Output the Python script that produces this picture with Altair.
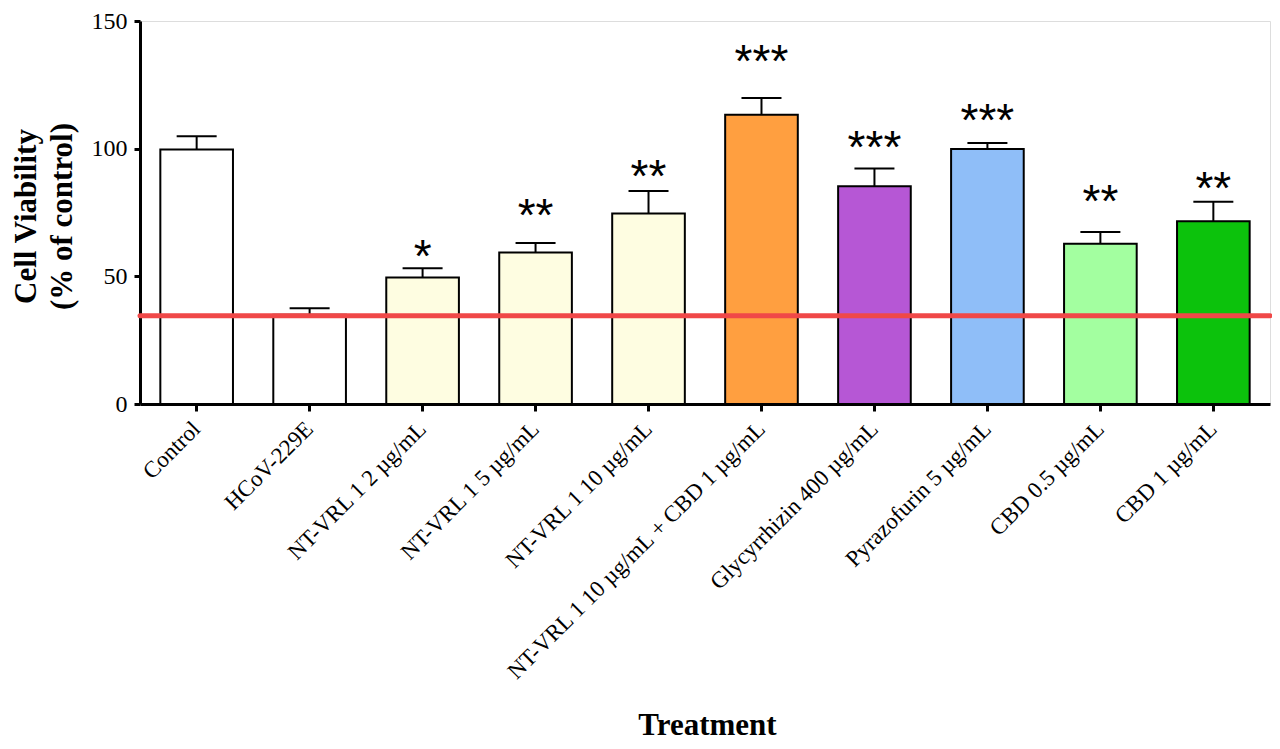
import altair as alt
import pandas as pd

treatments = [
    "Control",
    "HCoV-229E",
    "NT-VRL 1 2 µg/mL",
    "NT-VRL 1 5 µg/mL",
    "NT-VRL 1 10 µg/mL",
    "NT-VRL 1 10 µg/mL + CBD 1 µg/mL",
    "Glycyrrhizin 400 µg/mL",
    "Pyrazofurin 5 µg/mL",
    "CBD 0.5 µg/mL",
    "CBD 1 µg/mL",
]
viability = [99.7, 35.0, 49.5, 59.3, 74.6, 113.3, 85.3, 99.9, 62.8, 71.6]
err_top = [104.9, 37.5, 53.2, 63.1, 83.4, 119.8, 92.2, 102.2, 67.4, 79.2]
stars = ["", "", "*", "**", "**", "***", "***", "***", "**", "**"]
star_y = [None, None, 60.1, 75.8, 91.1, 136.2, 102.6, 113.3, 81.5, 86.5]
fills = ["#FFFFFF", "#FFFFFF", "#FEFDE1", "#FEFDE1", "#FEFDE1",
         "#FF9F40", "#B657D5", "#8FBEF8", "#A3FFA0", "#0CC20C"]
threshold = [34.6]

df = pd.DataFrame({
    "treatment": treatments,
    "viability": viability,
    "err": err_top,
    "star": stars,
    "star_y": star_y,
})
df_line = pd.DataFrame({"thr": threshold})

x_enc = alt.X(
    "treatment:N",
    sort=treatments,
    scale=alt.Scale(paddingInner=0.357, paddingOuter=0.18),
    axis=alt.Axis(
        title="Treatment",
        labelAngle=-45,
        labelAlign="right",
        labelBaseline="middle",
        labelFont="Liberation Serif",
        labelFontSize=23,
        labelColor="#000000",
        labelPadding=14,
        labelLimit=500,
        domainColor="#000000",
        domainWidth=3,
        tickColor="#000000",
        tickWidth=3,
        tickSize=7,
        titleFont="Liberation Serif",
        titleFontSize=31,
        titleFontWeight="bold",
        titleColor="#000000",
        titleX=567,
        titleY=330,
        titleAlign="center",
        titleBaseline="alphabetic",
    ),
)
y_scale = alt.Scale(domain=[0, 150], nice=False, zero=True)
y_enc = alt.Y(
    "viability:Q",
    scale=y_scale,
    axis=alt.Axis(
        title=["Cell Viability", "(% of control)"],
        values=[0, 50, 100, 150],
        grid=False,
        labelFont="Liberation Serif",
        labelFontSize=24,
        labelColor="#000000",
        labelPadding=7,
        domainColor="#000000",
        domainWidth=3,
        tickColor="#000000",
        tickWidth=3,
        tickSize=6,
        titleFont="Liberation Serif",
        titleFontSize=31,
        titleFontWeight="bold",
        titleColor="#000000",
        titleAngle=-90,
        titleX=-114,
        titleY=195,
        titleAlign="center",
        titleBaseline="middle",
        titleLineHeight=36,
    ),
)

base = alt.Chart(df)

bars = base.mark_bar(stroke="#000000", strokeWidth=2).encode(
    x=x_enc,
    y=y_enc,
    color=alt.Color("treatment:N", scale=alt.Scale(domain=treatments, range=fills), legend=None),
)

err_line = base.mark_rule(color="#000000", strokeWidth=2).encode(
    x=alt.X("treatment:N", sort=treatments),
    y=alt.Y("viability:Q", scale=y_scale),
    y2="err:Q",
)

caps = base.mark_tick(color="#000000", thickness=2, size=40, opacity=1).encode(
    x=alt.X("treatment:N", sort=treatments),
    y=alt.Y("err:Q", scale=y_scale),
)

star_text = base.transform_filter("datum.star != ''").mark_text(
    font="Liberation Sans", fontSize=46, color="#000000", baseline="alphabetic", dy=21
).encode(
    x=alt.X("treatment:N", sort=treatments),
    y=alt.Y("star_y:Q", scale=y_scale),
    text="star:N",
)

red_line = alt.Chart(df_line).mark_rule(color="#F04848", strokeWidth=5, strokeCap="round").encode(
    y=alt.Y("thr:Q", scale=y_scale),
)

chart = alt.layer(bars, err_line, caps, red_line, star_text).properties(
    width=1130,
    height=383,
    autosize=alt.AutoSizeParams(type="none"),
    padding={"left": 132, "top": 13, "right": 2, "bottom": 337},
).configure_view(stroke=None).configure(background="#FFFFFF")

chart.save("out.html", embed_options={"renderer": "svg", "actions": False})
